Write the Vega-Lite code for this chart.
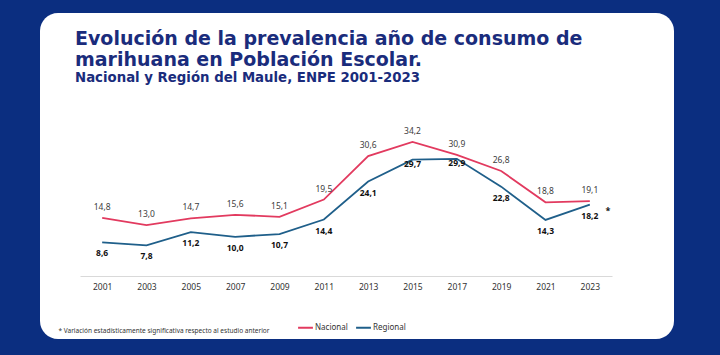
{
  "$schema": "https://vega.github.io/schema/vega-lite/v6.json",
  "width": 634,
  "height": 326,
  "autosize": {"type": "none"},
  "padding": {"left": 40, "top": 13, "right": 46, "bottom": 16},
  "background": "#0b2e80",
  "config": {
    "view": {"fill": "white", "stroke": null, "cornerRadius": 18},
    "font": "Noto Sans"
  },
  "title": {
    "text": ["Evolución de la prevalencia año de consumo de", "marihuana en Población Escolar."],
    "subtitle": "Nacional y Región del Maule, ENPE 2001-2023",
    "anchor": "start",
    "frame": "group",
    "orient": "top",
    "offset": -71,
    "dx": 35,
    "font": "DejaVu Sans",
    "fontSize": 19,
    "fontWeight": "bold",
    "lineHeight": 21,
    "color": "#1a2c7c",
    "subtitleFont": "DejaVu Sans",
    "subtitleFontSize": 13.3,
    "subtitleFontWeight": "bold",
    "subtitleColor": "#1a2c7c",
    "subtitlePadding": 1
  },
  "data": {
    "values": [
      {"year": 2001, "serie": "Nacional", "value": 14.8, "label": "14,8", "nota": ""},
      {"year": 2003, "serie": "Nacional", "value": 13.0, "label": "13,0", "nota": ""},
      {"year": 2005, "serie": "Nacional", "value": 14.7, "label": "14,7", "nota": ""},
      {"year": 2007, "serie": "Nacional", "value": 15.6, "label": "15,6", "nota": ""},
      {"year": 2009, "serie": "Nacional", "value": 15.1, "label": "15,1", "nota": ""},
      {"year": 2011, "serie": "Nacional", "value": 19.5, "label": "19,5", "nota": ""},
      {"year": 2013, "serie": "Nacional", "value": 30.6, "label": "30,6", "nota": ""},
      {"year": 2015, "serie": "Nacional", "value": 34.2, "label": "34,2", "nota": ""},
      {"year": 2017, "serie": "Nacional", "value": 30.9, "label": "30,9", "nota": ""},
      {"year": 2019, "serie": "Nacional", "value": 26.8, "label": "26,8", "nota": ""},
      {"year": 2021, "serie": "Nacional", "value": 18.8, "label": "18,8", "nota": ""},
      {"year": 2023, "serie": "Nacional", "value": 19.1, "label": "19,1", "nota": ""},
      {"year": 2001, "serie": "Regional", "value": 8.6, "label": "8,6", "nota": ""},
      {"year": 2003, "serie": "Regional", "value": 7.8, "label": "7,8", "nota": ""},
      {"year": 2005, "serie": "Regional", "value": 11.2, "label": "11,2", "nota": ""},
      {"year": 2007, "serie": "Regional", "value": 10.0, "label": "10,0", "nota": ""},
      {"year": 2009, "serie": "Regional", "value": 10.7, "label": "10,7", "nota": ""},
      {"year": 2011, "serie": "Regional", "value": 14.4, "label": "14,4", "nota": ""},
      {"year": 2013, "serie": "Regional", "value": 24.1, "label": "24,1", "nota": ""},
      {"year": 2015, "serie": "Regional", "value": 29.7, "label": "29,7", "nota": ""},
      {"year": 2017, "serie": "Regional", "value": 29.9, "label": "29,9", "nota": ""},
      {"year": 2019, "serie": "Regional", "value": 22.8, "label": "22,8", "nota": ""},
      {"year": 2021, "serie": "Regional", "value": 14.3, "label": "14,3", "nota": ""},
      {"year": 2023, "serie": "Regional", "value": 18.2, "label": "18,2", "nota": "*"}
    ]
  },
  "encoding": {
    "x": {
      "field": "year",
      "type": "quantitative",
      "scale": {"domain": [2000, 2024], "range": [40, 572], "nice": false, "zero": false},
      "axis": {
        "values": [2001, 2003, 2005, 2007, 2009, 2011, 2013, 2015, 2017, 2019, 2021, 2023],
        "format": "d",
        "offset": -63,
        "grid": false,
        "ticks": false,
        "domainColor": "#d9d9d9",
        "domainWidth": 1,
        "labelFont": "Noto Sans",
        "labelFontSize": 8.5,
        "labelColor": "#333333",
        "labelPadding": 6,
        "title": "* Variación estadísticamente significativa respecto al estudio anterior",
        "titleFont": "Noto Sans",
        "titleFontSize": 6.5,
        "titleFontWeight": "normal",
        "titleColor": "#333333",
        "titleAnchor": "start",
        "titleAlign": "left",
        "titleBaseline": "middle",
        "titleX": 18,
        "titleY": 54
      }
    },
    "y": {
      "field": "value",
      "type": "quantitative",
      "scale": {"domain": [0, 40], "range": [263, 106.2], "nice": false},
      "axis": null
    }
  },
  "layer": [
    {
      "mark": {"type": "line", "strokeWidth": 1.8},
      "encoding": {
        "color": {
          "field": "serie",
          "type": "nominal",
          "scale": {"domain": ["Nacional", "Regional"], "range": ["#e23a5f", "#1f5f8a"]},
          "legend": {
            "title": null,
            "orient": "none",
            "legendX": 257,
            "legendY": 306,
            "direction": "horizontal",
            "symbolType": "stroke",
            "symbolSize": 220,
            "symbolStrokeWidth": 2,
            "labelFont": "Noto Sans",
            "labelFontSize": 8,
            "labelColor": "#333333",
            "labelOffset": 1,
            "columnPadding": 4
          }
        }
      }
    },
    {
      "transform": [{"filter": "datum.serie == 'Nacional'"}],
      "mark": {"type": "text", "dy": -11, "fontSize": 8.5, "color": "#404040", "baseline": "middle"},
      "encoding": {"text": {"field": "label"}}
    },
    {
      "transform": [{"filter": "datum.serie == 'Regional' && datum.year != 2015 && datum.year != 2017"}],
      "mark": {"type": "text", "dy": 11, "fontSize": 8.5, "fontWeight": "bold", "color": "#111111", "baseline": "middle"},
      "encoding": {"text": {"field": "label"}}
    },
    {
      "transform": [{"filter": "datum.serie == 'Regional' && (datum.year == 2015 || datum.year == 2017)"}],
      "mark": {"type": "text", "dy": 4, "fontSize": 8.5, "fontWeight": "bold", "color": "#111111", "baseline": "middle"},
      "encoding": {"text": {"field": "label"}}
    },
    {
      "transform": [{"filter": "datum.nota != ''"}],
      "mark": {"type": "text", "dx": 18, "dy": 6, "fontSize": 9, "fontWeight": "bold", "color": "#111111", "baseline": "middle"},
      "encoding": {"text": {"field": "nota"}}
    }
  ]
}
